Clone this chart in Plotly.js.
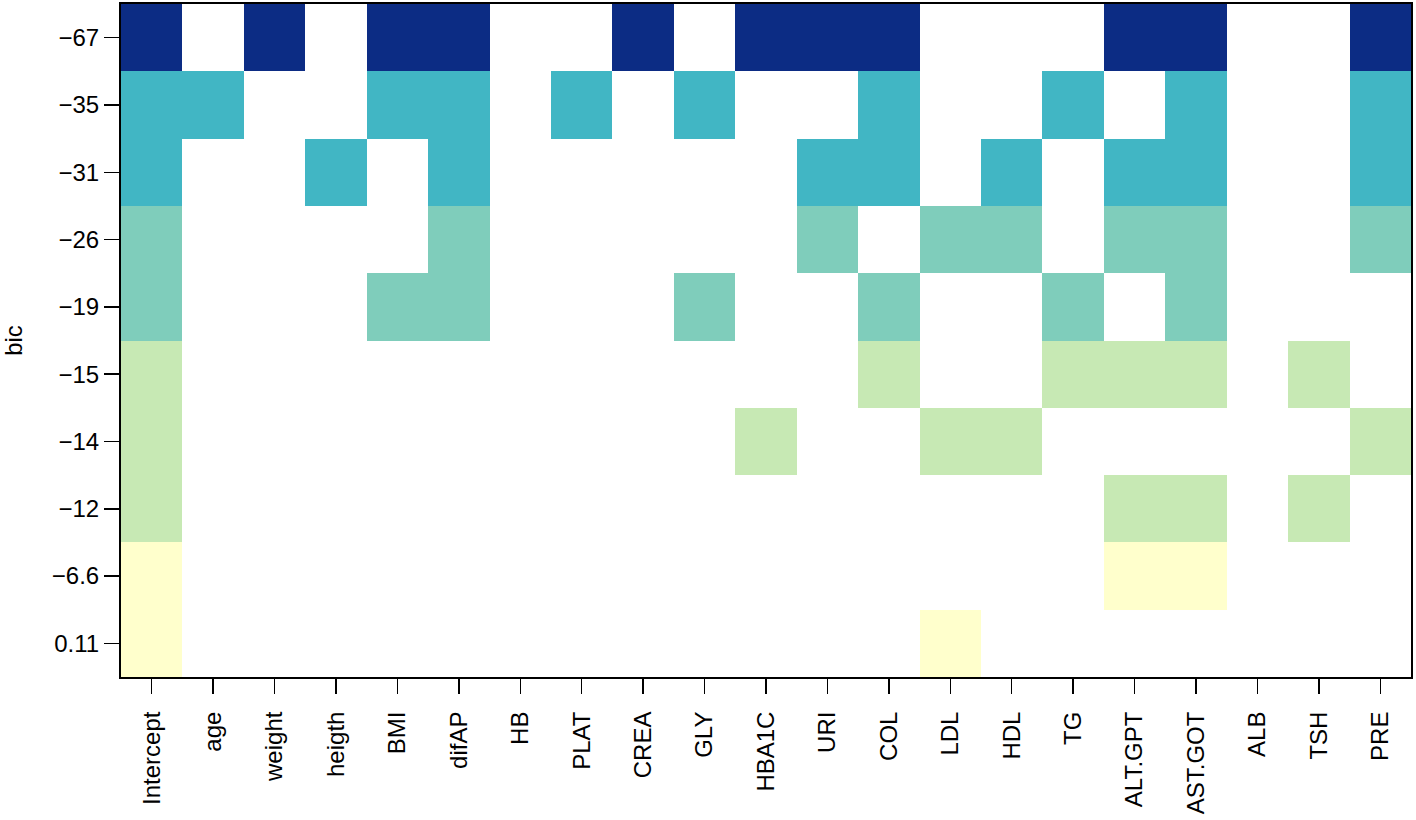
<!DOCTYPE html>
<html>
<head>
<meta charset="utf-8">
<script src="https://cdn.plot.ly/plotly-3.0.1.min.js"></script>
<style>html,body{margin:0;padding:0;background:#fff;}#chart{width:1416px;height:820px;}</style>
</head>
<body>
<div id="chart"></div>
<script>
var variables = ["Intercept","age","weight","heigth","BMI","difAP","HB","PLAT","CREA","GLY","HBA1C","URI","COL","LDL","HDL","TG","ALT.GPT","AST.GOT","ALB","TSH","PRE"];
var bicLabels = ["\u221267","\u221235","\u221231","\u221226","\u221219","\u221215","\u221214","\u221212","\u22126.6","0.11"];
var bicLevels = [4,3,3,2,2,1,1,1,0,0];
var included = [
  [1,0,1,0,1,1,0,0,1,0,1,1,1,0,0,0,1,1,0,0,1],
  [1,1,0,0,1,1,0,1,0,1,0,0,1,0,0,1,0,1,0,0,1],
  [1,0,0,1,0,1,0,0,0,0,0,1,1,0,1,0,1,1,0,0,1],
  [1,0,0,0,0,1,0,0,0,0,0,1,0,1,1,0,1,1,0,0,1],
  [1,0,0,0,1,1,0,0,0,1,0,0,1,0,0,1,0,1,0,0,0],
  [1,0,0,0,0,0,0,0,0,0,0,0,1,0,0,1,1,1,0,1,0],
  [1,0,0,0,0,0,0,0,0,0,1,0,0,1,1,0,0,0,0,0,1],
  [1,0,0,0,0,0,0,0,0,0,0,0,0,0,0,0,1,1,0,1,0],
  [1,0,0,0,0,0,0,0,0,0,0,0,0,0,0,0,1,1,0,0,0],
  [1,0,0,0,0,0,0,0,0,0,0,0,0,1,0,0,0,0,0,0,0]
];
var levelColors = ["#FFFFCC","#C7E9B4","#7FCDBB","#41B6C4","#0C2C84"];

var z = included.map(function(row, i){
  return row.map(function(v){ return v ? bicLevels[i] : null; });
});
var cs = [];
for (var k = 0; k < levelColors.length; k++) {
  cs.push([k/levelColors.length, levelColors[k]]);
  cs.push([(k+1)/levelColors.length, levelColors[k]]);
}

var font = {family: "Liberation Sans, Arial, Helvetica, sans-serif", size: 24, color: "#000"};

Plotly.newPlot("chart", [{
  type: "heatmap",
  x: variables,
  y: bicLabels,
  z: z,
  zmin: -0.5,
  zmax: 4.5,
  colorscale: cs,
  showscale: false,
  hoverongaps: false
}], {
  width: 1416, height: 820,
  margin: {l: 121, r: 5, t: 4, b: 143},
  paper_bgcolor: "#fff",
  plot_bgcolor: "#fff",
  font: font,
  xaxis: {
    type: "category",
    categoryorder: "array",
    categoryarray: variables,
    tickangle: -90,
    ticks: "outside", ticklen: 15, tickwidth: 1.5, tickcolor: "#000",
    ticklabelstandoff: 8,
    showline: true, linecolor: "#000", linewidth: 2, mirror: true,
    showgrid: false, zeroline: false,
    tickfont: font
  },
  yaxis: {
    type: "category",
    categoryorder: "array",
    categoryarray: bicLabels,
    autorange: "reversed",
    ticks: "outside", ticklen: 15, tickwidth: 1.5, tickcolor: "#000",
    showline: true, linecolor: "#000", linewidth: 2, mirror: true,
    showgrid: false, zeroline: false,
    tickfont: font,
    title: {text: "bic", font: font, standoff: 24}
  }
}, {displayModeBar: false, staticPlot: true});
</script>
</body>
</html>
